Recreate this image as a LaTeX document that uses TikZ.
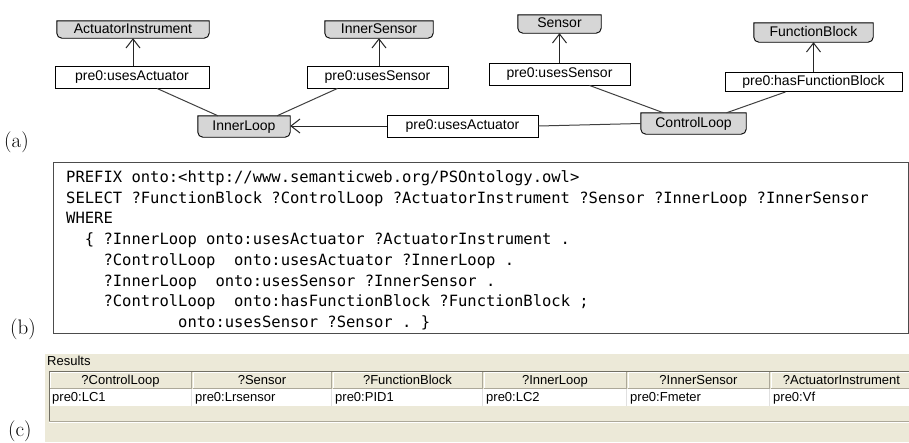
\documentclass[tikz,border=0pt]{standalone}
\usepackage{fontspec}
\newfontfamily\gsans{Liberation Sans}
\newfontfamily\cmono{DejaVu Sans Mono}
\usetikzlibrary{arrows.meta,backgrounds}
\definecolor{clsgray}{HTML}{D6D6D6}
\definecolor{panelc}{HTML}{ECE9D8}
\definecolor{shadowc}{HTML}{ACA899}
\definecolor{darkc}{HTML}{716F64}
\tikzset{
  cls/.style={font=\gsans\fontsize{14}{16}\selectfont, inner sep=0pt, text height=10pt, text depth=3pt},
  prop/.style={draw=black, line width=0.9pt, fill=white, font=\gsans\fontsize{14}{16}\selectfont, inner sep=0pt, minimum height=22pt, text height=10pt, text depth=3pt},
  arr/.style={draw=black!85, line width=1pt, -{Straight Barb[length=9pt,width=14pt,line width=1pt]}},
  ln/.style={draw=black!75, line width=1pt},
  codeline/.style={anchor=base west, inner sep=0pt, font=\cmono\fontsize{15.5}{17}\selectfont},
  lbl/.style={font=\fontsize{21}{21}\selectfont, inner sep=0pt, anchor=west},
  tbl/.style={font=\gsans\fontsize{13}{15}\selectfont, inner sep=0pt, text height=9.5pt, text depth=2.5pt},
}
\begin{document}
\begin{tikzpicture}[x=1pt,y=-1pt]
\useasboundingbox (0,0) rectangle (909,442);
% ---------------- (a) graph
\node[cls, minimum width=152pt, minimum height=17pt] (ai) at (133,29.5) {ActuatorInstrument};
\node[cls, minimum width=108pt, minimum height=17pt] (is) at (379,29.5) {InnerSensor};
\node[cls, minimum width=83pt, minimum height=18pt] (se) at (559.5,24) {Sensor};
\node[cls, minimum width=119pt, minimum height=19pt] (fb) at (813.5,32.5) {FunctionBlock};
\node[cls, minimum width=92pt, minimum height=21pt] (il) at (244,126.5) {InnerLoop};
\node[cls, minimum width=105pt, minimum height=21pt] (cl) at (693.5,123.5) {ControlLoop};
\node[prop, minimum width=154pt] (ua) at (132,77) {pre0:usesActuator};
\node[prop, minimum width=141pt] (us1) at (377.5,77) {pre0:usesSensor};
\node[prop, minimum width=151pt] (ua2) at (462.5,126) {pre0:usesActuator};
\node[prop, minimum width=141pt] (us2) at (559.5,74) {pre0:usesSensor};
\node[prop, minimum width=177pt, minimum height=19pt] (hf) at (813.5,82) {pre0:hasFunctionBlock};
\begin{scope}[on background layer]
  \fill[white] (0,0) rectangle (909,442);
  \foreach \n in {ai,is,se,fb,il,cl} {
    \draw[line width=0.9pt, fill=clsgray] (\n.north west) -- ([yshift=5pt]\n.south west)
      arc[start angle=180,end angle=270,radius=5pt] -- ([xshift=-5pt]\n.south east)
      arc[start angle=270,end angle=360,radius=5pt] -- (\n.north east) -- cycle;
  }
\end{scope}
\draw[arr] (ua.north -| ai.south) -- (ai.south);
\draw[arr] (us1.north -| is.south) -- (is.south);
\draw[arr] (us2.north) -- (se.south);
\draw[arr] (hf.north) -- (fb.south);
\draw[arr] (ua2.west) -- (ua2.west -| il.east);
\draw[ln] ([xshift=25pt]ua.south) -- ([xshift=-26pt]il.north);
\draw[ln] ([xshift=-40pt]us1.south) -- ([xshift=33pt]il.north);
\draw[ln] (ua2.east) -- (cl.west);
\draw[ln] ([xshift=30pt]us2.south) -- ([xshift=-30pt]cl.north);
\draw[ln] ([xshift=-28pt]hf.south) -- ([xshift=33pt]cl.north);
\node[lbl] (la) at (4,142) {(a)};
% ---------------- (b) query
\node[draw=black!70, line width=1pt, fill=white, minimum width=854.5pt, minimum height=171pt, anchor=north west, inner sep=0pt] (codebox) at (53,162) {};
\node[codeline] (c1) at (66,182.5) {PREFIX~onto:<http://www.semanticweb.org/PSOntology.owl>};
\node[codeline] (c2) at (66,203.2) {SELECT~?FunctionBlock~?ControlLoop~?ActuatorInstrument~?Sensor~?InnerLoop~?InnerSensor};
\node[codeline] (c3) at (66,223.9) {WHERE};
\node[codeline] (c4) at (66,244.6) {~~\{~?InnerLoop~onto:usesActuator~?ActuatorInstrument~.};
\node[codeline] (c5) at (66,265.3) {~~~~?ControlLoop~~onto:usesActuator~?InnerLoop~.};
\node[codeline] (c6) at (66,286) {~~~~?InnerLoop~~onto:usesSensor~?InnerSensor~.};
\node[codeline] (c7) at (66,306.7) {~~~~?ControlLoop~~onto:hasFunctionBlock~?FunctionBlock~;};
\node[codeline] (c8) at (66,327.4) {~~~~~~~~~~~~onto:usesSensor~?Sensor~.~\}};
\node[lbl] (lb) at (10,329) {(b)};
% ---------------- (c) results
\fill[panelc] (45,354) rectangle (915,442);
\node[tbl, anchor=west] (res) at (47,362) {Results};
\fill[white] (50,389) rectangle (915,406);
\foreach \i/\xa/\xb/\h/\d in {1/49/192/?ControlLoop/pre0:LC1, 2/192/332/?Sensor/pre0:Lrsensor, 3/332/483/?FunctionBlock/pre0:PID1, 4/483/627/?InnerLoop/pre0:LC2, 5/627/770/?InnerSensor/pre0:Fmeter, 6/770/913/?ActuatorInstrument/pre0:Vf} {
  \draw[white, line width=1pt] (\xa+1.5,388) -- (\xa+1.5,372.5) -- (\xb-1,372.5);
  \draw[shadowc, line width=1pt] (\xa+1,388.5) -- (\xb-0.5,388.5) -- (\xb-0.5,372);
  \draw[black!12, line width=1pt] (\xb-0.5,389) -- (\xb-0.5,406);
  \node[tbl] (h\i) at ({(\xa+\xb)/2},380.5) {\h};
  \node[tbl, anchor=west] (d\i) at (\xa+3,397.5) {\d};
}
\draw[darkc, line width=1pt] (49.5,421) -- (49.5,371.5) -- (915,371.5);
\draw[shadowc, line width=1pt] (49,421.5) -- (915,421.5);
\draw[white, line width=1pt] (49,422.5) -- (915,422.5);
\node[lbl] (lc) at (8,431) {(c)};
\end{tikzpicture}
\end{document}
